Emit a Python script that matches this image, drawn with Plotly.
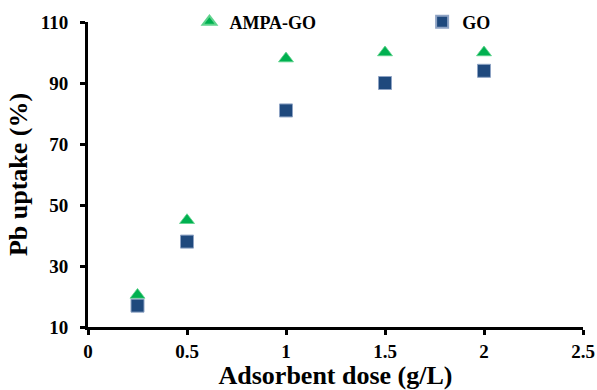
import plotly.graph_objects as go

dose = [0.25, 0.5, 1.0, 1.5, 2.0]
ampa_go = [20.5, 45, 98, 100, 100]
go_vals = [17, 38, 81, 90, 94]

x_ticks = [0, 0.5, 1, 1.5, 2, 2.5]
y_ticks = [10, 30, 50, 70, 90, 110]

FONT = "Liberation Serif, Times New Roman, serif"

fig = go.Figure()
fig.add_trace(go.Scatter(
    x=dose, y=ampa_go, mode="markers", name="<b>AMPA-GO</b>",
    marker=dict(symbol="triangle-up", size=13, color="#00B050",
                line=dict(color="#5FD38D", width=0.8)),
    legend="legend",
))
fig.add_trace(go.Scatter(
    x=dose, y=go_vals, mode="markers", name="<b>GO</b>",
    marker=dict(symbol="square", size=13, color="#1F497D",
                line=dict(color="#8EA3C4", width=1)),
    legend="legend2",
))

axis_common = dict(
    showgrid=False, zeroline=False, showline=True, linecolor="black",
    linewidth=3, ticks="outside", ticklen=5, tickwidth=2.5, tickcolor="black",
    tickfont=dict(family=FONT, size=19, color="black", weight="bold"),
)

fig.update_xaxes(
    range=[0, 2.5], tickvals=x_ticks, ticktext=[f"{v:g}" for v in x_ticks],
    title=dict(text="Adsorbent dose (g/L)", font=dict(family=FONT, size=26, color="black", weight="bold"),
               standoff=4),
    ticklabelstandoff=0,
    **axis_common,
)
fig.update_yaxes(
    range=[10, 110], tickvals=y_ticks, ticktext=[str(v) for v in y_ticks],
    title=dict(text="Pb uptake (%)", font=dict(family=FONT, size=26, color="black", weight="bold"),
               standoff=6),
    ticklabelstandoff=8,
    **axis_common,
)

legend_common = dict(
    orientation="h", xanchor="left", y=1.0, yanchor="middle",
    font=dict(family=FONT, size=18, color="black"),
    bgcolor="rgba(0,0,0,0)", itemsizing="constant",
)

fig.update_layout(
    width=597, height=390,
    margin=dict(l=88, r=14, t=22, b=63, autoexpand=False),
    paper_bgcolor="white", plot_bgcolor="white",
    showlegend=True,
    legend=dict(x=0.205, **legend_common),
    legend2=dict(x=0.675, **legend_common),
)

fig.write_html("out.html")
